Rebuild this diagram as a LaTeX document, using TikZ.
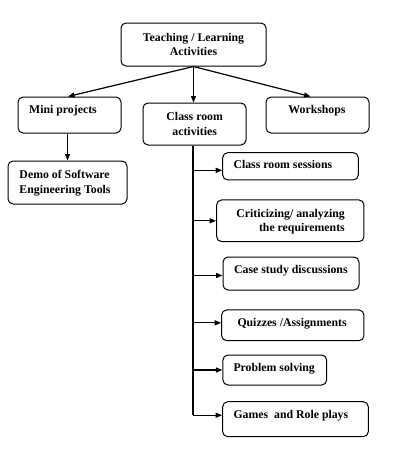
\documentclass[tikz,border=0pt]{standalone}
\usepackage{fontspec}
\setmainfont{Liberation Serif}
\usetikzlibrary{arrows.meta}
\begin{document}
\begin{tikzpicture}[x=1pt,y=-1pt,
  box/.style={draw,rounded corners=5pt,line width=1pt,inner sep=0pt},
  txt/.style={inner sep=0pt,font=\fontsize{11.8}{14.5}\selectfont\bfseries},
  arr/.style={line width=1.2pt,-{Triangle[length=6.5pt,width=5pt]}},
  ln/.style={line width=1.2pt}]
\useasboundingbox (0,0) rectangle (402,456);
% boxes
\node[box,minimum width=145pt,minimum height=43pt] (top) at (193.5,44.5) {};
\node[box,minimum width=103pt,minimum height=36pt] (mini) at (69.5,115) {};
\node[box,minimum width=103pt,minimum height=42pt] (cra) at (194.5,124) {};
\node[box,minimum width=103pt,minimum height=36pt] (ws) at (317.5,115) {};
\node[box,minimum width=119pt,minimum height=43pt] (demo) at (67.5,182.5) {};
\node[box,minimum width=135.6pt,minimum height=27.3pt] (ses) at (290.5,166.3) {};
\node[box,minimum width=147.3pt,minimum height=41.7pt] (crit) at (290.3,220.8) {};
\node[box,minimum width=136pt,minimum height=33pt] (case) at (291,273.5) {};
\node[box,minimum width=142.3pt,minimum height=30.7pt] (quiz) at (292.8,325.3) {};
\node[box,minimum width=103.7pt,minimum height=30pt] (prob) at (274.8,370) {};
\node[box,minimum width=145.6pt,minimum height=35pt] (games) at (295.5,419.2) {};
% texts (for two-line texts the base anchor is the last line's baseline)
\node[txt,align=center,anchor=base] (ttop) at (193.5,55.5) {Teaching / Learning\\Activities};
\node[txt,anchor=base west] (tmini) at (29,113.3) {Mini projects};
\node[txt,align=center,anchor=base] (tcra) at (194.7,135) {Class room\\activities};
\node[txt,anchor=base] (tws) at (317,113.3) {Workshops};
\node[txt,align=left,anchor=base west] (tdemo) at (19.3,193) {Demo of Software\\Engineering Tools};
\node[txt,anchor=base west] (tses) at (233.3,168.5) {Class room sessions};
\node[txt,align=right,anchor=base east] (tcrit) at (345,231.5) {Criticizing/ analyzing\\the requirements};
\node[txt,anchor=base west] (tcase) at (234,273.3) {Case study discussions};
\node[txt,anchor=base west] (tquiz) at (237.3,326.7) {Quizzes /Assignments};
\node[txt,anchor=base west] (tprob) at (233.3,371.7) {Problem solving};
\node[txt,anchor=base west] (tgames) at (233.3,418.3) {Games\ \ and Role plays};
% entry points on the right-hand boxes
\coordinate (ses-in) at ([yshift=-4pt]ses.west);
\coordinate (crit-in) at (crit.west);
\coordinate (case-in) at ([yshift=-2pt]case.west);
\coordinate (quiz-in) at ([yshift=2.5pt]quiz.west);
\coordinate (prob-in) at (prob.west);
\coordinate (games-in) at ([yshift=4pt]games.west);
% connectors
\draw[arr] (top.south) -- ([xshift=-1.5pt]mini.north);
\draw[arr] (top.south) -- (top.south |- cra.north);
\draw[arr] (top.south) -- ([xshift=-7pt]ws.north);
\draw[arr] (demo.north |- mini.south) -- (demo.north);
\coordinate (vtop) at ([xshift=-1.5pt]cra.south);
\coordinate (vbot) at (vtop |- games-in);
\draw[ln] (vtop) -- (vbot);
\draw[arr] (vtop |- ses-in) -- (ses-in);
\draw[arr] (vtop |- crit-in) -- (crit-in);
\draw[arr] (vtop |- case-in) -- (case-in);
\draw[arr] (vtop |- quiz-in) -- (quiz-in);
\draw[arr] (vtop |- prob-in) -- (prob-in);
\draw[arr] (vbot) -- (games-in);
\end{tikzpicture}
\end{document}
